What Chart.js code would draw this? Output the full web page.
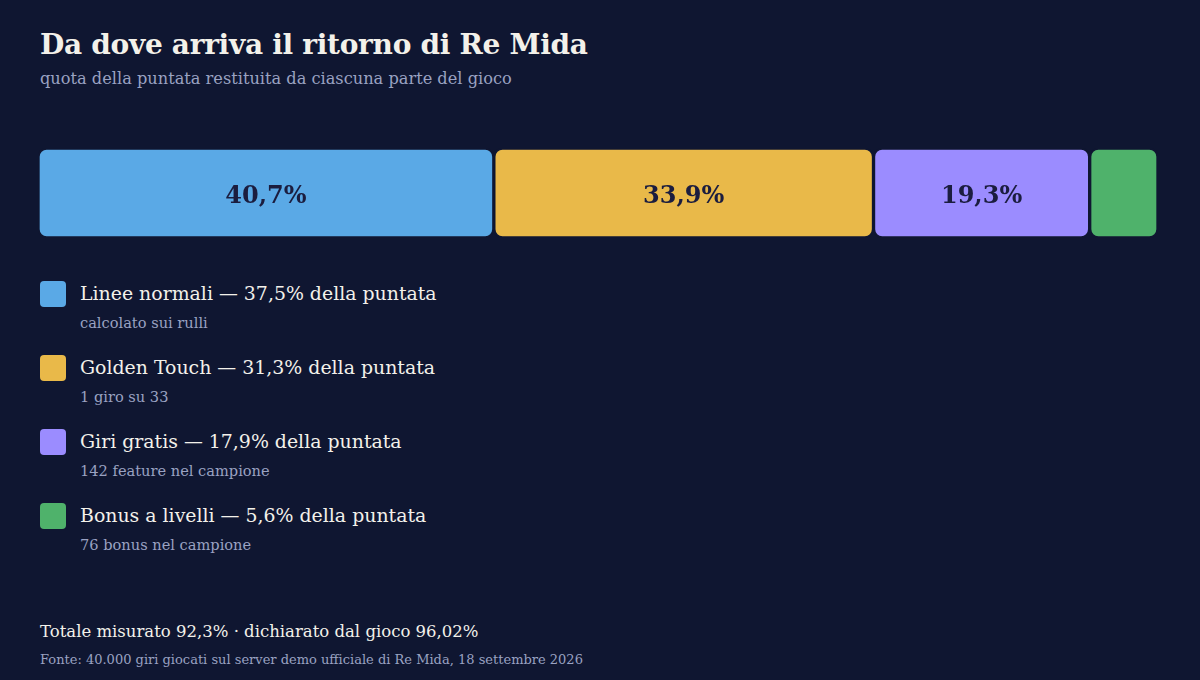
<!DOCTYPE html>
<html lang="it">
<head>
<meta charset="utf-8">
<script src="https://cdn.jsdelivr.net/npm/chart.js@4/dist/chart.umd.min.js"></script>
<style>
  html, body { margin:0; padding:0; width:1200px; height:680px; background:#0f1631; overflow:hidden; }
  body { font-family: "DejaVu Serif", Georgia, serif; position:relative; }
  #title { position:absolute; left:40px; top:28px; font-size:28px; font-weight:bold; color:#f3f1ea; white-space:nowrap; letter-spacing:-0.3px; }
  #subtitle { position:absolute; left:40px; top:69px; font-size:16.2px; color:#9aa2c2; white-space:nowrap; }
  #barwrap { position:absolute; left:38px; top:148px; width:1120px; height:90px; }
  #legend { position:absolute; left:40px; top:280px; }
  .item { position:relative; height:74px; }
  .sw { position:absolute; left:0; top:1px; width:26px; height:26px; border-radius:4px; }
  .lbl { position:absolute; left:40px; top:0px; font-size:18.9px; color:#f3f1ea; white-space:nowrap; line-height:26px; }
  .sub { position:absolute; left:40px; top:34px; font-size:14.6px; color:#9aa2c2; white-space:nowrap; line-height:18px; }
  #total { position:absolute; left:40px; top:622px; font-size:16.5px; color:#f3f1ea; white-space:nowrap; }
  #source { position:absolute; left:40px; top:652px; font-size:13px; color:#9aa2c2; white-space:nowrap; }
</style>
</head>
<body>
<div id="title">Da dove arriva il ritorno di Re Mida</div>
<div id="subtitle">quota della puntata restituita da ciascuna parte del gioco</div>
<div id="barwrap"><canvas id="c"></canvas></div>
<div id="legend"></div>
<div id="total">Totale misurato 92,3% · dichiarato dal gioco 96,02%</div>
<div id="source">Fonte: 40.000 giri giocati sul server demo ufficiale di Re Mida, 18 settembre 2026</div>
<script>
// ---- data ----
const parts = ["Linee normali", "Golden Touch", "Giri gratis", "Bonus a livelli"];
const shareOfReturn = [40.7, 33.9, 19.3, 6.1];      // % of measured return (bar)
const shareOfStake = [37.5, 31.3, 17.9, 5.6];       // % of stake (legend)
const notes = ["calcolato sui rulli", "1 giro su 33", "142 feature nel campione", "76 bonus nel campione"];
const colors = ["#5aa9e6", "#e9b949", "#9b8cff", "#4fb26b"];
const BG = "#0f1631";

const fmt = v => v.toFixed(1).replace(".", ",") + "%";

// legend
const lg = document.getElementById("legend");
parts.forEach((p, i) => {
  const d = document.createElement("div");
  d.className = "item";
  d.innerHTML = '<div class="sw" style="background:' + colors[i] + '"></div>' +
    '<div class="lbl">' + p + ' — ' + fmt(shareOfStake[i]) + ' della puntata</div>' +
    '<div class="sub">' + notes[i] + '</div>';
  lg.appendChild(d);
});

const labelPlugin = {
  id: "segLabels",
  afterDatasetsDraw(chart) {
    const ctx = chart.ctx;
    ctx.save();
    ctx.font = "bold 24px 'DejaVu Serif', Georgia, serif";
    ctx.fillStyle = "#1b1d3f";
    ctx.textAlign = "center";
    ctx.textBaseline = "middle";
    chart.data.datasets.forEach((ds, i) => {
      const el = chart.getDatasetMeta(i).data[0];
      const w = Math.abs(el.x - el.base);
      if (w > 100) ctx.fillText(fmt(ds.data[0]), (el.x + el.base) / 2, el.y + 4);
    });
    ctx.restore();
  }
};

const R = 9;
new Chart(document.getElementById("c"), {
  type: "bar",
  data: {
    labels: ["ritorno"],
    datasets: parts.map((p, i) => ({
      label: p,
      data: [shareOfReturn[i]],
      backgroundColor: colors[i],
      borderColor: BG,
      borderWidth: 2,
      borderSkipped: false,
      borderRadius: { topLeft: R, topRight: R, bottomLeft: R, bottomRight: R },
      barPercentage: 1,
      categoryPercentage: 1
    }))
  },
  options: {
    indexAxis: "y",
    responsive: true,
    maintainAspectRatio: false,
    animation: false,
    layout: { padding: 0 },
    plugins: { legend: { display: false }, tooltip: { enabled: false } },
    scales: {
      x: { stacked: true, display: false, min: 0, max: shareOfReturn.reduce((a, b) => a + b, 0) },
      y: { stacked: true, display: false }
    }
  },
  plugins: [labelPlugin]
});
</script>
</body>
</html>
